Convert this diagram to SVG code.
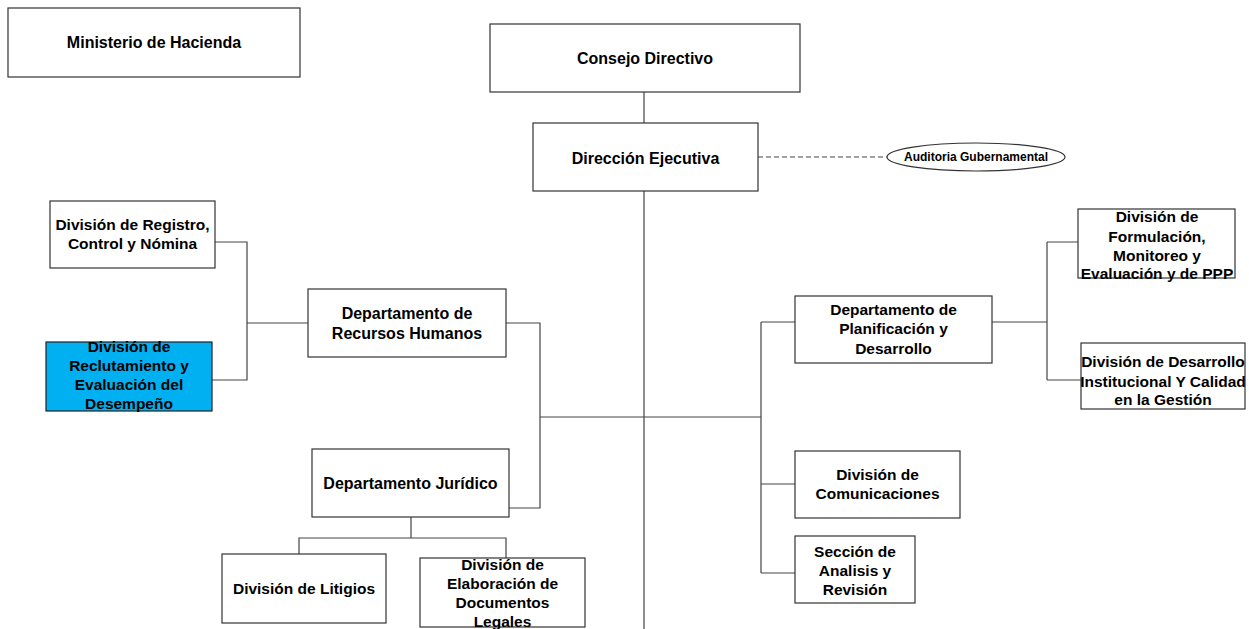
<svg xmlns="http://www.w3.org/2000/svg" width="1249" height="629" viewBox="0 0 1249 629">
  <style>
    .box { fill: #ffffff; stroke: #333333; stroke-width: 1.2; }
    .hl { fill: #00b0f0; stroke: #222222; stroke-width: 1.2; }
    .t { font-family: "Liberation Sans", Arial, sans-serif; font-weight: bold; font-size: 15.5px; fill: #000000; text-anchor: middle; }
    .tl { font-size: 16px; }
    .ts { font-size: 12px; }
    .ln { fill: none; stroke: #444444; stroke-width: 1.2; }
    .dash { stroke-dasharray: 5 3; }
  </style>
  <rect width="1249" height="629" fill="#ffffff"/>

  <!-- connectors -->
  <g id="connectors">
    <path class="ln" d="M644 92 V123 M644 191 V629"/>
    <path class="ln dash" d="M758 157 H887"/>
    <!-- Recursos Humanos branch -->
    <path class="ln" d="M215 242 H247 V380 H212 M247 323 H308"/>
    <path class="ln" d="M506 323 H540 V508 H509 M540 417 H761"/>
    <!-- Juridico branch -->
    <path class="ln" d="M411 517 V538 M299 557 V538 H506 V558"/>
    <!-- right branch -->
    <path class="ln" d="M761 322 V573 M761 322 H795 M761 484 H795 M761 573 H795"/>
    <path class="ln" d="M992 322 H1047 M1047 242 V380 M1047 242 H1078 M1047 380 H1081"/>
  </g>

  <g id="ministerio">
    <rect class="box" x="8" y="8" width="292" height="69"/>
    <text class="t tl" x="154" y="47.5">Ministerio de Hacienda</text>
  </g>

  <g id="consejo">
    <rect class="box" x="490" y="24" width="310" height="68"/>
    <text class="t tl" x="645" y="63.5">Consejo Directivo</text>
  </g>

  <g id="direccion">
    <rect class="box" x="533" y="123" width="225" height="68"/>
    <text class="t tl" x="645.5" y="163.5">Dirección Ejecutiva</text>
  </g>

  <g id="auditoria">
    <ellipse class="box" cx="976" cy="157" rx="89" ry="14"/>
    <text class="t ts" x="976" y="161">Auditoria Gubernamental</text>
  </g>

  <g id="registro">
    <rect class="box" x="50" y="201" width="165" height="67"/>
    <text class="t" x="132.5" y="230">División de Registro,</text>
    <text class="t" x="132.5" y="249">Control y Nómina</text>
  </g>

  <g id="reclutamiento">
    <rect class="hl" x="46" y="342" width="166" height="69"/>
    <text class="t" x="129" y="352">División de</text>
    <text class="t" x="129" y="371">Reclutamiento y</text>
    <text class="t" x="129" y="390">Evaluación del</text>
    <text class="t" x="129" y="409">Desempeño</text>
  </g>

  <g id="rrhh">
    <rect class="box" x="308" y="289" width="198" height="68"/>
    <text class="t tl" x="407" y="318.5">Departamento de</text>
    <text class="t tl" x="407" y="338.5">Recursos Humanos</text>
  </g>

  <g id="juridico">
    <rect class="box" x="312" y="449" width="197" height="68"/>
    <text class="t tl" x="410.5" y="488.5">Departamento Jurídico</text>
  </g>

  <g id="litigios">
    <rect class="box" x="222" y="554" width="164" height="69"/>
    <text class="t" x="304" y="593.5">División de Litigios</text>
  </g>

  <g id="elaboracion">
    <rect class="box" x="420" y="558" width="165" height="69"/>
    <text class="t" x="502.5" y="570">División de</text>
    <text class="t" x="502.5" y="589">Elaboración de</text>
    <text class="t" x="502.5" y="608">Documentos</text>
    <text class="t" x="502.5" y="627">Legales</text>
  </g>

  <g id="planificacion">
    <rect class="box" x="795" y="296" width="197" height="67"/>
    <text class="t" x="893.5" y="314.5">Departamento de</text>
    <text class="t" x="893.5" y="334">Planificación y</text>
    <text class="t" x="893.5" y="353.5">Desarrollo</text>
  </g>

  <g id="formulacion">
    <rect class="box" x="1078" y="209" width="157" height="69"/>
    <text class="t" x="1157" y="222">División de</text>
    <text class="t" x="1157" y="242">Formulación,</text>
    <text class="t" x="1157" y="260.5">Monitoreo y</text>
    <text class="t" x="1157" y="279">Evaluación y de PPP</text>
  </g>

  <g id="desarrollo">
    <rect class="box" x="1081" y="343" width="164" height="66"/>
    <text class="t" x="1163" y="367">División de Desarrollo</text>
    <text class="t" x="1163" y="387">Institucional Y Calidad</text>
    <text class="t" x="1163" y="405">en la Gestión</text>
  </g>

  <g id="comunicaciones">
    <rect class="box" x="795" y="451" width="165" height="67"/>
    <text class="t" x="877.5" y="480">División de</text>
    <text class="t" x="877.5" y="499">Comunicaciones</text>
  </g>

  <g id="seccion">
    <rect class="box" x="795" y="536" width="120" height="67"/>
    <text class="t" x="855" y="556.5">Sección de</text>
    <text class="t" x="855" y="575.5">Analisis y</text>
    <text class="t" x="855" y="594.5">Revisión</text>
  </g>
</svg>
